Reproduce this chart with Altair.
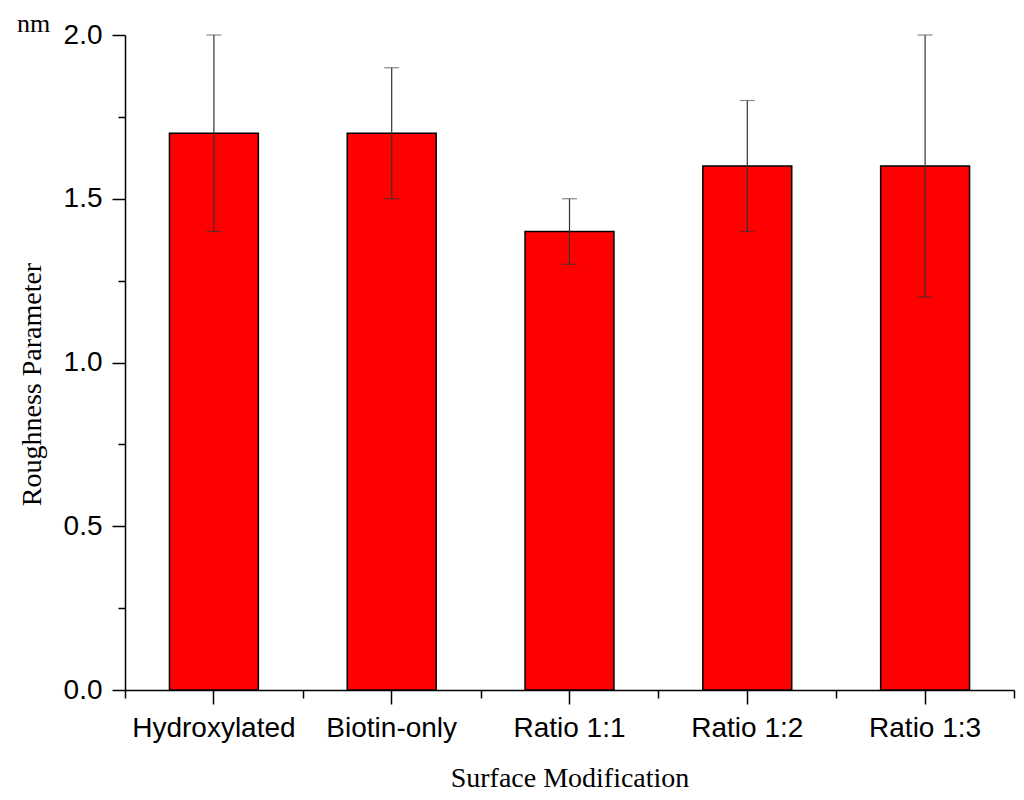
import altair as alt
import pandas as pd

categories = ["Hydroxylated", "Biotin-only", "Ratio 1:1", "Ratio 1:2", "Ratio 1:3"]
values = [1.7, 1.7, 1.4, 1.6, 1.6]
err_low = [1.4, 1.5, 1.3, 1.4, 1.2]
err_high = [2.0, 1.9, 1.5, 1.8, 2.0]
y_major = [0.0, 0.5, 1.0, 1.5, 2.0]
y_minor = [0.25, 0.75, 1.25, 1.75]
x_minor = [0, 1, 2, 3, 4, 5]

df = pd.DataFrame({"cat": categories, "val": values, "lo": err_low, "hi": err_high})
df_minor = pd.DataFrame({"xq": [0, 5], "yq": [0.0, 2.0]})

SANS = "Liberation Sans"
SERIF = "Liberation Serif"

x_enc = alt.X(
    "cat:N",
    sort=categories,
    scale=alt.Scale(paddingInner=0.5, paddingOuter=0.25),
    axis=alt.Axis(
        title="Surface Modification",
        titleFont=SERIF, titleFontSize=28, titleFontWeight="normal", titleColor="black",
        titlePadding=22,
        labelFont=SANS, labelFontSize=28, labelColor="black", labelAngle=0, labelPadding=10,
        tickSize=14, tickWidth=1.5, tickColor="black",
        domainColor="black", domainWidth=1.5, grid=False,
    ),
)
y_scale = alt.Scale(domain=[0, 2.0], nice=False)
y_enc = alt.Y(
    "val:Q",
    scale=y_scale,
    axis=alt.Axis(
        title="Roughness Parameter",
        titleFont=SERIF, titleFontSize=28, titleFontWeight="normal", titleColor="black",
        titlePadding=17, titleY=349,
        labelFont=SANS, labelFontSize=28, labelColor="black", labelPadding=10,
        values=y_major, format=".1f",
        tickSize=13, tickWidth=1.5, tickColor="black",
        domainColor="black", domainWidth=1.5, grid=False,
    ),
)

bars = alt.Chart(df).mark_bar(color="#FF0000", stroke="black", strokeWidth=1.5).encode(
    x=x_enc, y=y_enc
)
rules = alt.Chart(df).mark_rule(color="#333333", strokeWidth=1.2).encode(
    x=alt.X("cat:N", sort=categories), y="lo:Q", y2="hi:Q"
)
caps_lo = alt.Chart(df).mark_tick(color="#333333", thickness=1.2, size=15).encode(
    x=alt.X("cat:N", sort=categories), y="lo:Q"
)
caps_hi = alt.Chart(df).mark_tick(color="#555555", thickness=1.2, size=15).encode(
    x=alt.X("cat:N", sort=categories), y="hi:Q"
)

main = alt.layer(bars, rules, caps_lo, caps_hi)

minor = alt.Chart(df_minor).mark_point(opacity=0).encode(
    x=alt.X(
        "xq:Q",
        scale=alt.Scale(domain=[0, 5], nice=False, zero=False),
        axis=alt.Axis(
            values=x_minor, labels=False, domain=False, title=None, grid=False,
            tickSize=8, tickWidth=1.5, tickColor="black", orient="bottom",
        ),
    ),
    y=alt.Y(
        "yq:Q",
        scale=alt.Scale(domain=[0, 2.0], nice=False),
        axis=alt.Axis(
            values=y_minor, labels=False, domain=False, title=None, grid=False,
            tickSize=7, tickWidth=1.5, tickColor="black", orient="left",
        ),
    ),
)

chart = (
    alt.layer(main, minor)
    .resolve_scale(x="independent", y="independent")
    .resolve_axis(x="independent", y="independent")
    .properties(
        width=889,
        height=655,
        autosize=alt.AutoSizeParams(type="none"),
        padding={"left": 117, "top": 27, "right": 2, "bottom": 106},
        view=alt.ViewBackground(stroke=None, strokeWidth=0),
        title=alt.TitleParams(
            "nm", anchor="start", frame="bounds", font=SERIF, fontSize=26, fontWeight="normal",
            color="black", dx=-1, dy=16, offset=0,
        ),
    )
    .configure_view(strokeWidth=0, stroke=None)
    .configure_axis(grid=False)
    .configure(background="white")
)

chart.save("out.html", embed_options={"renderer": "svg", "actions": False})
